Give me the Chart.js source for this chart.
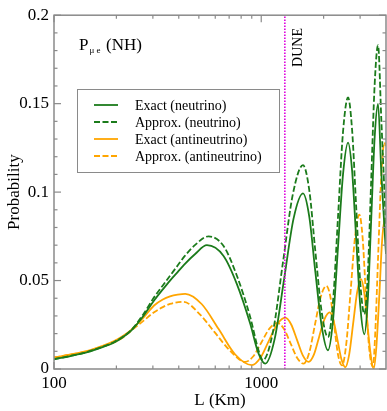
<!DOCTYPE html>
<html><head><meta charset="utf-8">
<script src="https://cdn.jsdelivr.net/npm/chart.js@4.4.0/dist/chart.umd.min.js"></script>
<style>html,body{margin:0;padding:0;background:#fff;}</style>
</head><body>
<canvas id="c" width="387" height="411" style="width:387px;height:411px;display:block"></canvas>
<script>
// ---- data ----
const exactNuL = [100,120,145,170,195,215,235,270,304,335,363,395,425,480,547,658,763,885,970,1045,1161,1290,1432,1590,1706,1824,1959,2099,2220,2347,2481,2624,2745,2871,3004,3146,3266,3394,3527,3661,3800,4000];
const exactNuP = [0.0055,0.0073,0.0095,0.0122,0.015,0.018,0.0215,0.030,0.0387,0.045,0.050,0.0548,0.059,0.065,0.070,0.0639,0.048,0.0256,0.0088,0.003,0.017,0.051,0.085,0.0993,0.086,0.055,0.024,0.0106,0.0275,0.069,0.11,0.128,0.112,0.074,0.036,0.0196,0.0387,0.0847,0.131,0.1498,0.11,0.065];

const approxNuL = [100,120,145,170,195,215,235,270,304,335,363,395,425,480,557,658,763,885,970,1019,1139,1272,1422,1590,1706,1824,1959,2099,2220,2347,2481,2624,2745,2871,3004,3146,3266,3394,3527,3661,3800,4000];
const approxNuP = [0.0055,0.0074,0.0097,0.0124,0.0153,0.0183,0.0218,0.031,0.0405,0.0472,0.0527,0.0585,0.0635,0.0702,0.075,0.0695,0.0527,0.0293,0.0106,0.005,0.021,0.06,0.099,0.1152,0.101,0.0666,0.032,0.018,0.038,0.086,0.134,0.1535,0.135,0.092,0.049,0.031,0.053,0.107,0.161,0.183,0.14,0.08];

const exactAntiL = [100,120,145,170,195,215,235,270,304,335,363,395,430,517,622,749,902,989,1085,1191,1306,1393,1488,1587,1693,1795,1901,2015,2138,2232,2333,2438,2545,2658,2778,2903,3031,3138,3252,3381,3488,3594,3715,3828,3950,4000];
const exactAntiP = [0.0065,0.0082,0.0102,0.0129,0.0158,0.0187,0.022,0.029,0.0359,0.0393,0.041,0.042,0.0425,0.0366,0.0227,0.0082,0.0022,0.0062,0.0156,0.0251,0.029,0.0253,0.0165,0.0077,0.004,0.0081,0.018,0.0279,0.032,0.0274,0.0165,0.0055,0.001,0.0083,0.0259,0.0435,0.0508,0.0434,0.0254,0.0074,0.0,0.0125,0.042,0.072,0.085,0.084];

const approxAntiL = [100,120,145,170,195,215,235,270,304,335,363,422,500,594,705,837,916,1002,1095,1199,1288,1385,1489,1600,1706,1816,1935,2061,2154,2250,2349,2455,2574,2702,2836,2975,3083,3191,3304,3460,3548,3668,3800,3926,4000];
const approxAntiP = [0.0065,0.0081,0.0100,0.0125,0.015,0.0178,0.0215,0.0272,0.0321,0.0350,0.0368,0.038,0.0315,0.021,0.0105,0.004,0.0072,0.015,0.0228,0.026,0.0226,0.0145,0.0064,0.003,0.0094,0.025,0.0406,0.047,0.0411,0.0245,0.0079,0.002,0.0145,0.0446,0.0747,0.0872,0.0746,0.0443,0.014,0.0013,0.02,0.065,0.11,0.128,0.126];

const duneL = 1300;
const yTicks = [0, 0.05, 0.1, 0.15, 0.2];
const xTickLabels = [100, 1000];
const seriesNames = ['Exact (neutrino)','Approx. (neutrino)','Exact (antineutrino)','Approx. (antineutrino)'];

// ---- styles ----
const GREEN = '#1b7b1b', ORANGE = '#ffa500', MAGENTA = '#dd00dd', AXIS = '#8a8a8a';
const SERIF = '"Liberation Serif","DejaVu Serif",serif';
const zip = (xs, ys) => xs.map((v, i) => ({x: v, y: ys[i]}));

const mk = (label, xs, ys, color, dashed) => ({
  label, data: zip(xs, ys), borderColor: color, backgroundColor: color,
  borderWidth: 1.8, borderDash: dashed ? [6, 2.5] : [], pointRadius: 0,
  cubicInterpolationMode: 'monotone', fill: false, isSeries: true
});

const datasets = [
  {label: 'DUNE', data: [{x: duneL, y: 0}, {x: duneL, y: 0.2}], borderColor: MAGENTA,
   borderWidth: 1.6, borderDash: [1.5, 1.5], pointRadius: 0, fill: false},
  mk(seriesNames[0], exactNuL, exactNuP, GREEN, false),
  mk(seriesNames[1], approxNuL, approxNuP, GREEN, true),
  mk(seriesNames[2], exactAntiL, exactAntiP, ORANGE, false),
  mk(seriesNames[3], approxAntiL, approxAntiP, ORANGE, true),
];

const decor = {
  id: 'decor',
  afterDatasetsDraw(chart) {
    const {ctx, chartArea: a, scales: {x, y}} = chart;
    ctx.save();
    ctx.strokeStyle = AXIS; ctx.lineWidth = 1.5;
    ctx.strokeRect(a.left, a.top, a.right - a.left, a.bottom - a.top);
    const seg = (x1, y1, x2, y2) => { ctx.beginPath(); ctx.moveTo(x1, y1); ctx.lineTo(x2, y2); ctx.stroke(); };
    ctx.lineWidth = 1.2;
    for (let k = 0; k <= 20; k++) {
      const py = y.getPixelForValue(k / 100);
      const len = (k % 5 === 0) ? 7 : 3.5;
      seg(a.left, py, a.left + len, py);
      seg(a.right, py, a.right - len, py);
    }
    for (let dec = 100; dec <= 1000; dec *= 10) {
      for (let m = 1; m <= 9; m++) {
        const v = dec * m;
        if (v > 4000) break;
        const px = x.getPixelForValue(v);
        if (px < a.left - 0.5 || px > a.right - 1) continue;
        const len = (m === 1) ? 7 : 3.5;
        seg(px, a.bottom, px, a.bottom - len);
        seg(px, a.top, px, a.top + len);
      }
    }
    ctx.fillStyle = '#000'; ctx.textBaseline = 'alphabetic'; ctx.textAlign = 'left';
    ctx.font = '17px ' + SERIF; ctx.fillText('P', 79, 50);
    ctx.font = '9px ' + SERIF; ctx.fillText('\u03bc e', 89.5, 53);
    ctx.font = '17px ' + SERIF; ctx.fillText('(NH)', 106, 50);
    ctx.save();
    ctx.translate(x.getPixelForValue(duneL) + 13, 47.5);
    ctx.rotate(-Math.PI / 2);
    ctx.font = '14px ' + SERIF; ctx.textAlign = 'center'; ctx.textBaseline = 'middle';
    ctx.fillText('DUNE', 0, 0);
    ctx.restore();
    const lx = 77, ly = 89, lw = 202, lh = 83;
    ctx.fillStyle = '#fff'; ctx.fillRect(lx, ly, lw, lh);
    ctx.strokeStyle = AXIS; ctx.lineWidth = 1; ctx.strokeRect(lx + 0.5, ly + 0.5, lw, lh);
    const series = chart.data.datasets.filter(d => d.isSeries);
    series.forEach((d, i) => {
      const cy = 105 + i * 17;
      ctx.strokeStyle = d.borderColor; ctx.lineWidth = 1.8; ctx.setLineDash(d.borderDash);
      seg(94, cy, 118, cy);
      ctx.setLineDash([]);
      ctx.fillStyle = '#000'; ctx.font = '14px ' + SERIF; ctx.textAlign = 'left'; ctx.textBaseline = 'alphabetic';
      ctx.fillText(d.label, 135, cy + 5);
    });
    ctx.restore();
  }
};

new Chart(document.getElementById('c'), {
  type: 'line',
  data: {datasets},
  options: {
    responsive: false, animation: false, devicePixelRatio: 1,
    layout: {padding: {top: 12, right: 1, left: 0, bottom: 0}},
    plugins: {legend: {display: false}, tooltip: {enabled: false}},
    scales: {
      x: {
        type: 'logarithmic', min: 100, max: 4000,
        grid: {display: false, drawTicks: false}, border: {display: false},
        afterBuildTicks: s => { s.ticks = xTickLabels.map(v => ({value: v})); },
        afterFit: s => { s.height = 42; },
        ticks: {color: '#000', font: {family: SERIF, size: 17}, padding: 4, maxRotation: 0,
                callback: v => String(v)},
        title: {display: true, text: 'L (Km)', color: '#000', font: {family: SERIF, size: 17}, padding: {top: 0, bottom: 0}}
      },
      y: {
        min: 0, max: 0.2,
        grid: {display: false, drawTicks: false}, border: {display: false},
        afterBuildTicks: s => { s.ticks = yTicks.map(v => ({value: v})); },
        afterFit: s => { s.width = 54; },
        ticks: {color: '#000', font: {family: SERIF, size: 17}, padding: 5,
                callback: v => String(v)},
        title: {display: true, text: 'Probability', color: '#000', font: {family: SERIF, size: 17}, padding: {top: 4, bottom: 0}}
      }
    }
  },
  plugins: [decor]
});
</script>
</body></html>
